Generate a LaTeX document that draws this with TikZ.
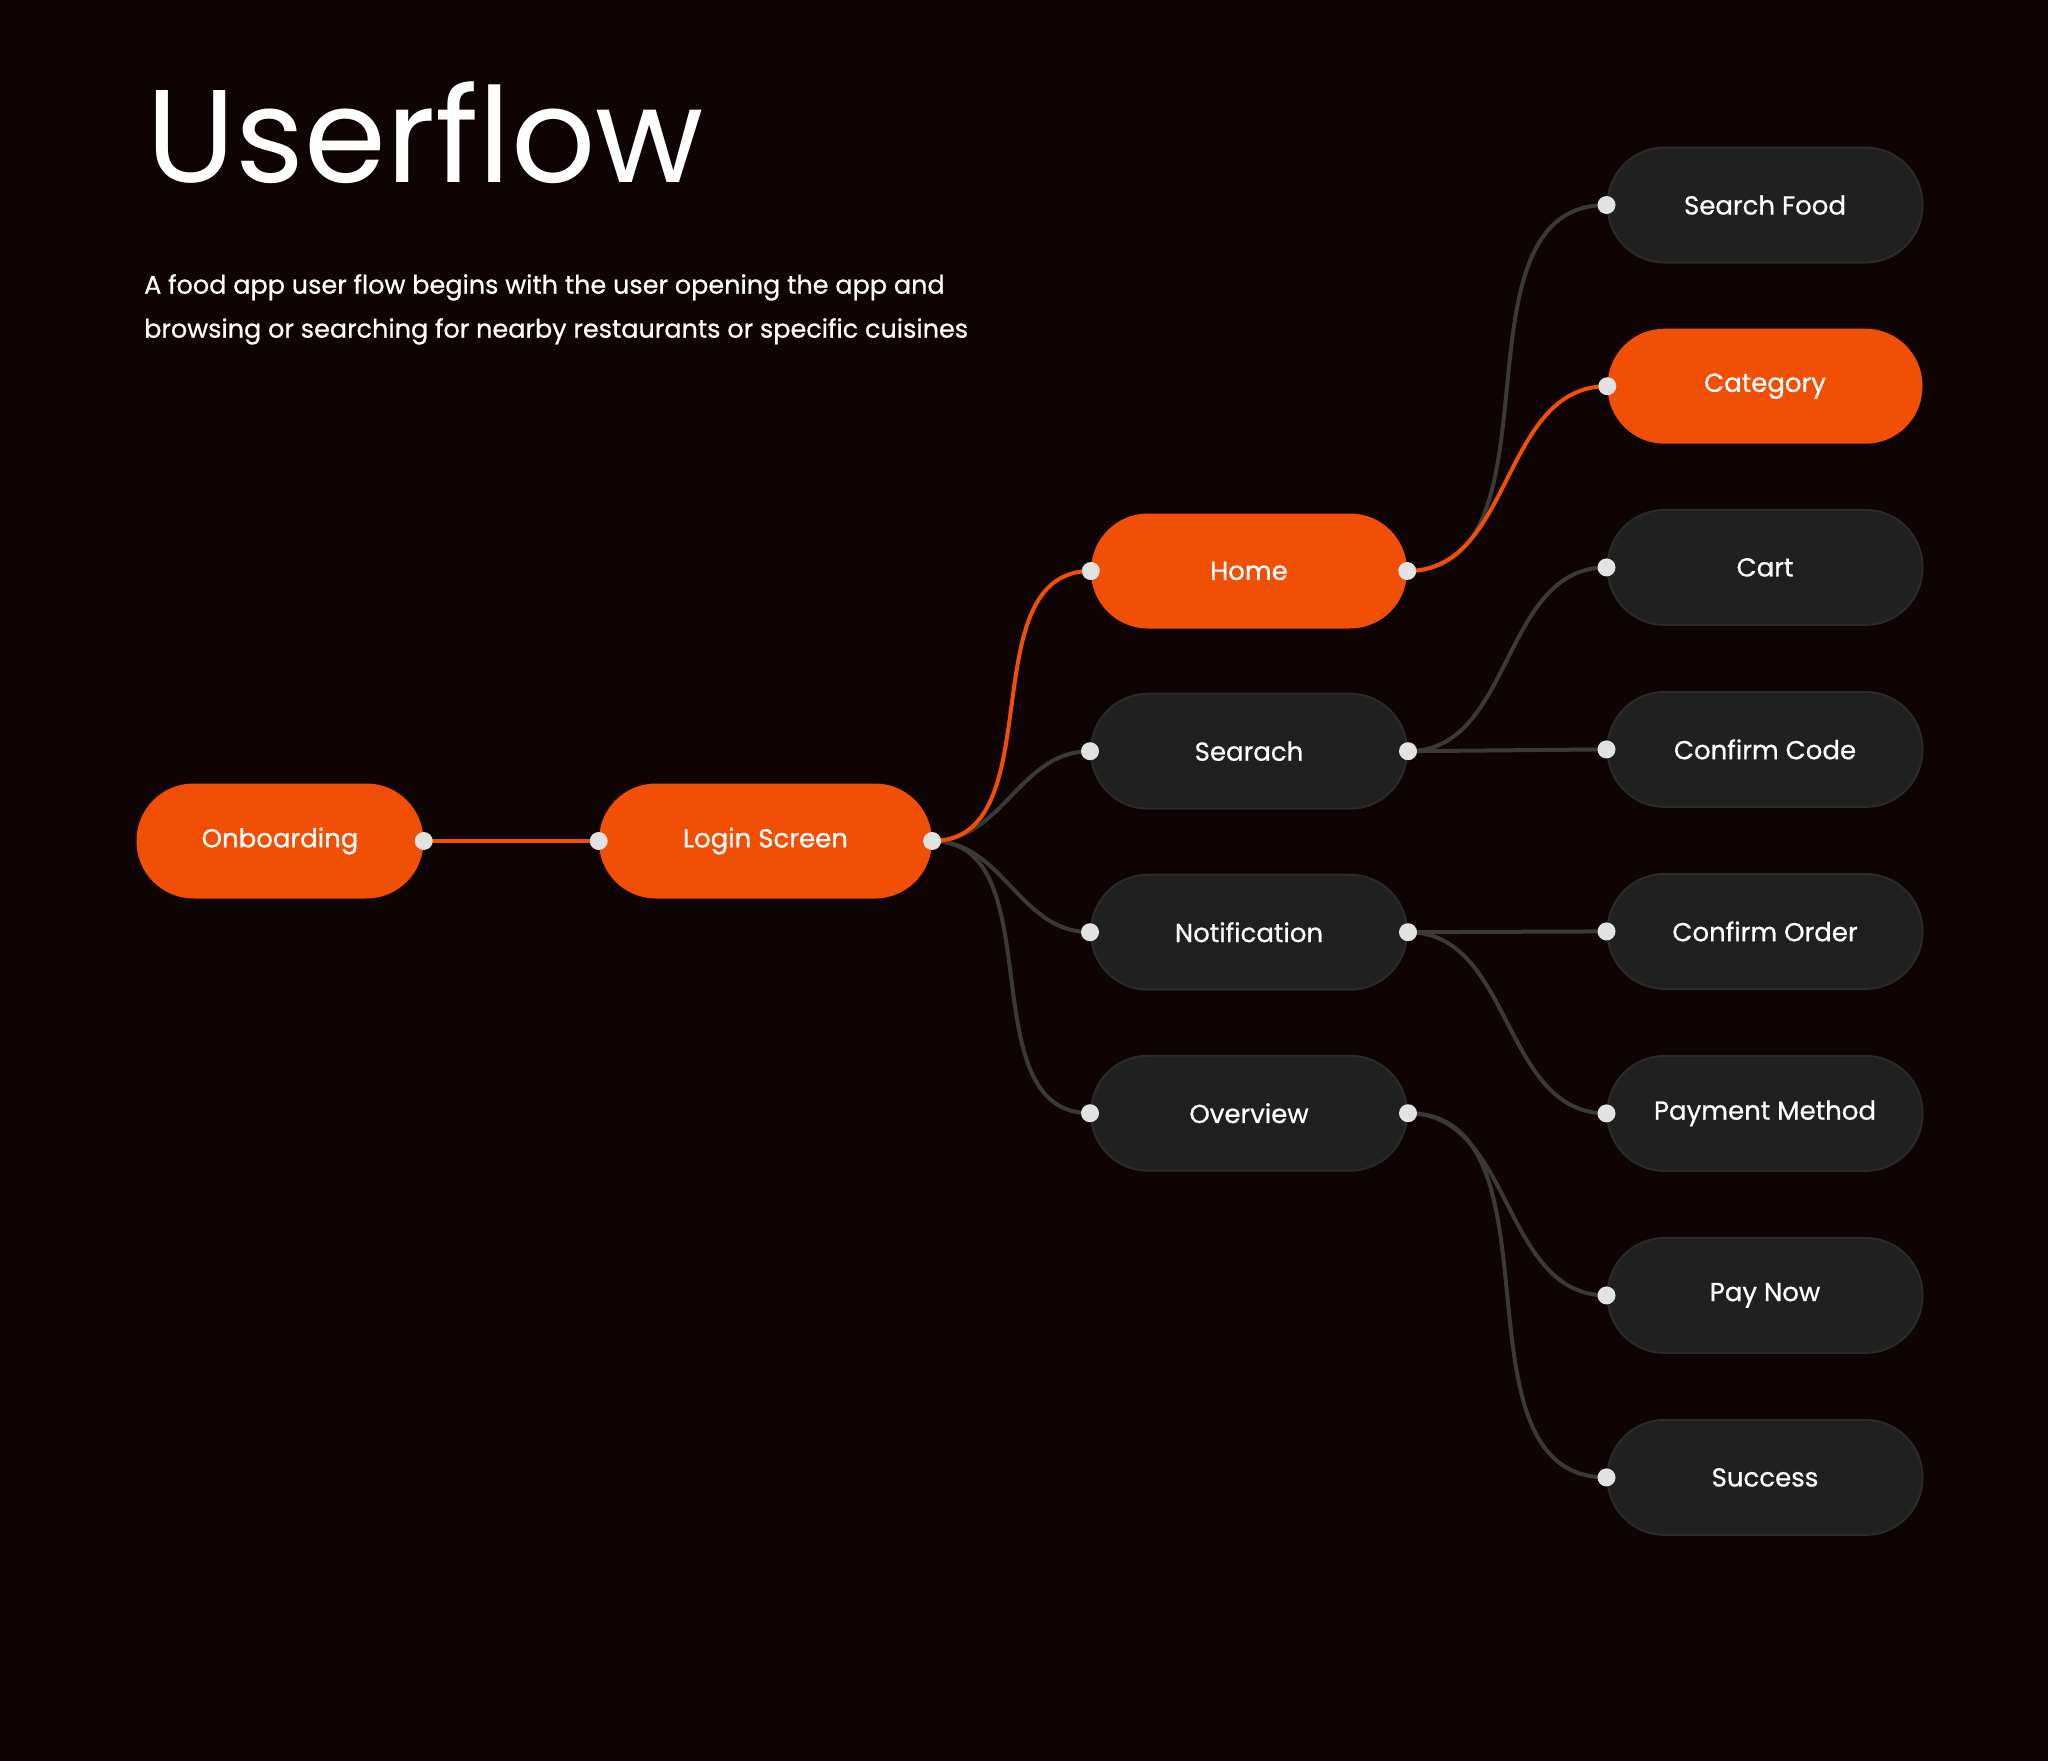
\documentclass[tikz,border=0pt]{standalone}
\usepackage{fontspec}
\setmainfont{Poppins}
\newfontfamily\labelfont{Poppins}[FakeBold=0.7]
\usetikzlibrary{positioning}
\definecolor{bgdark}{HTML}{0D0403}
\definecolor{flame}{HTML}{F04F05}
\definecolor{slate}{HTML}{202020}
\definecolor{rim}{HTML}{2A2A2A}
\definecolor{wire}{HTML}{3A3838}
\definecolor{pin}{HTML}{E2E2E2}
\tikzset{
  screen/.style={rounded corners=57pt, minimum height=115pt, minimum width=316pt, inner sep=0pt, align=center, text=white, font=\labelfont\fontsize{26}{30}\selectfont},
  active/.style={screen, fill=flame},
  idle/.style={screen, fill=slate, draw=rim, line width=2pt},
  link/.style={draw=wire, line width=4pt},
  hot/.style={link, draw=flame},
  pinpt/.style={fill=pin}
}

\begin{document}
\begin{tikzpicture}[x=1pt, y=-1pt, node distance=64pt and 175pt]
\fill[bgdark] (0,0) rectangle (2048,1761);
\node[anchor=base west, inner sep=0pt, text=white, font=\fontsize{132}{140}\selectfont] (title) at (146,182) {Userflow};
\node[anchor=north west, inner sep=0pt, align=left, text=white, font=\labelfont\fontsize{25.5}{44}\selectfont] (intro) at (144,274) {A food app user flow begins with the user opening the app and\\browsing or searching for nearby restaurants or specific cuisines};
% left side
\node[active, minimum width=287pt] (onboard) at (280,841) {Onboarding};
\node[active, minimum width=333pt, right=of onboard] (login) {Login Screen};
% middle column
\node[active] (home) at (1249,571) {Home};
\node[idle, below=of home] (searach) {Searach};
\node[idle, below=of searach] (notif) {Notification};
\node[idle, below=of notif] (overview) {Overview};
% right column
\node[idle, minimum width=315pt] (sfood) at (1765,205) {Search Food};
\node[active, minimum width=315pt, below=65pt of sfood] (category) {Category};
\node[idle, minimum width=315pt, below=65pt of category] (cart) {Cart};
\node[idle, minimum width=315pt, below=65pt of cart] (ccode) {Confirm Code};
\node[idle, minimum width=315pt, below=65pt of ccode] (corder) {Confirm Order};
\node[idle, minimum width=315pt, below=65pt of corder] (paymeth) {Payment Method};
\node[idle, minimum width=315pt, below=65pt of paymeth] (paynow) {Pay Now};
\node[idle, minimum width=315pt, below=65pt of paynow] (success) {Success};
% connectors
\draw[link] (login.east) to[out=0,in=180] (searach.west);
\draw[link] (login.east) to[out=0,in=180] (notif.west);
\draw[link] (login.east) to[out=0,in=180] (overview.west);
\draw[link] (home.east) to[out=0,in=180] (sfood.west);
\draw[link] (searach.east) to[out=0,in=180] (cart.west);
\draw[link] (searach.east) -- (ccode.west);
\draw[link] (notif.east) -- (corder.west);
\draw[link] (notif.east) to[out=0,in=180] (paymeth.west);
\draw[link] (overview.east) to[out=0,in=180] (paynow.west);
\draw[link] (overview.east) to[out=0,in=180] (success.west);
\draw[hot] (onboard.east) -- (login.west);
\draw[hot] (login.east) to[out=0,in=180] (home.west);
\draw[hot] (home.east) to[out=0,in=180] (category.west);
% pins
\foreach \n in {onboard, login, home, searach, notif, overview}
  \fill[pinpt] (\n.east) circle (9pt);
\foreach \n in {login, home, searach, notif, overview, sfood, category, cart, ccode, corder, paymeth, paynow, success}
  \fill[pinpt] (\n.west) circle (9pt);
\end{tikzpicture}
\end{document}
